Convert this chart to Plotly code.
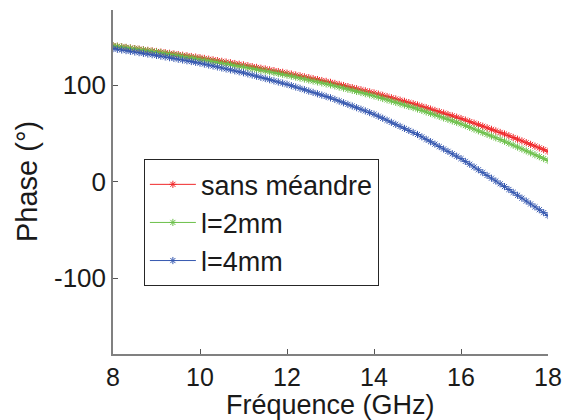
import numpy as np
import plotly.graph_objects as go

freq = np.round(np.linspace(8, 18, 101), 2)

sans_meandre = [
    141.0, 140.4, 139.8, 139.2, 138.6, 138.0, 137.4, 136.8, 136.2, 135.6,
    135.0, 134.4, 133.7, 133.1, 132.4, 131.8, 131.1, 130.5, 129.8, 129.2,
    128.5, 127.8, 127.0, 126.3, 125.5, 124.8, 124.0, 123.3, 122.5, 121.8,
    121.0, 120.2, 119.3, 118.5, 117.6, 116.8, 115.9, 115.1, 114.2, 113.4,
    112.5, 111.6, 110.6, 109.7, 108.7, 107.8, 106.8, 105.9, 104.9, 104.0,
    103.0, 101.9, 100.8, 99.7, 98.6, 97.5, 96.4, 95.3, 94.2, 93.1,
    92.0, 90.8, 89.5, 88.3, 87.0, 85.8, 84.5, 83.3, 82.0, 80.8,
    79.5, 78.1, 76.7, 75.3, 73.9, 72.5, 71.1, 69.7, 68.3, 66.9,
    65.5, 63.9, 62.3, 60.7, 59.1, 57.5, 55.9, 54.3, 52.7, 51.1,
    49.5, 47.7, 45.9, 44.1, 42.3, 40.5, 38.7, 36.9, 35.1, 33.3,
    31.5,
]

l_2mm = [
    141.0, 140.4, 139.7, 139.1, 138.4, 137.8, 137.1, 136.5, 135.8, 135.2,
    134.5, 133.8, 133.0, 132.3, 131.5, 130.8, 130.0, 129.3, 128.5, 127.8,
    127.0, 126.2, 125.4, 124.6, 123.8, 123.0, 122.2, 121.4, 120.6, 119.8,
    119.0, 118.2, 117.3, 116.5, 115.6, 114.8, 113.9, 113.1, 112.2, 111.4,
    110.5, 109.5, 108.5, 107.5, 106.5, 105.5, 104.5, 103.5, 102.5, 101.5,
    100.5, 99.4, 98.2, 97.1, 95.9, 94.8, 93.6, 92.5, 91.3, 90.2,
    89.0, 87.7, 86.3, 85.0, 83.6, 82.3, 80.9, 79.6, 78.2, 76.9,
    75.5, 74.0, 72.4, 70.9, 69.3, 67.8, 66.2, 64.7, 63.1, 61.6,
    60.0, 58.2, 56.4, 54.6, 52.8, 51.0, 49.2, 47.4, 45.6, 43.8,
    42.0, 40.0, 38.0, 36.0, 34.0, 32.0, 30.0, 28.0, 26.0, 24.0,
    22.0,
]

l_4mm = [
    138.0, 137.3, 136.6, 135.9, 135.2, 134.5, 133.8, 133.1, 132.4, 131.7,
    131.0, 130.2, 129.4, 128.6, 127.8, 127.0, 126.2, 125.4, 124.6, 123.8,
    123.0, 122.0, 121.0, 120.0, 119.0, 118.0, 117.0, 116.0, 115.0, 114.0,
    113.0, 111.8, 110.6, 109.4, 108.2, 107.0, 105.8, 104.6, 103.4, 102.2,
    101.0, 99.6, 98.2, 96.8, 95.4, 94.0, 92.6, 91.2, 89.8, 88.4,
    87.0, 85.3, 83.6, 81.9, 80.2, 78.5, 76.8, 75.1, 73.4, 71.7,
    70.0, 67.9, 65.8, 63.7, 61.6, 59.5, 57.4, 55.3, 53.2, 51.1,
    49.0, 46.5, 44.0, 41.5, 39.0, 36.5, 34.0, 31.5, 29.0, 26.5,
    24.0, 21.1, 18.2, 15.3, 12.4, 9.5, 6.6, 3.7, 0.8, -2.1,
    -5.0, -8.0, -11.0, -14.0, -17.0, -20.0, -23.0, -26.0, -29.0, -32.0,
    -35.0,
]

series_names = ["sans méandre", "l=2mm", "l=4mm"]
series_values = [sans_meandre, l_2mm, l_4mm]
series_colors = ["#f0282a", "#6cc04a", "#3658b0"]

x_ticks = [8, 10, 12, 14, 16, 18]
y_ticks = [-100, 0, 100]
y_ticktext = ["-100", "0", "100"]
x_title = "Fréquence (GHz)"
y_title = "Phase (°)"

FONT = "Arial, 'Liberation Sans', sans-serif"
TXT = "#1a1a1a"

fig = go.Figure()
for i, (name, vals, col) in enumerate(zip(series_names, series_values, series_colors)):
    fig.add_trace(go.Scatter(
        x=freq, y=vals, name=name, mode="lines+markers",
        line=dict(color=col, width=1),
        marker=dict(symbol="asterisk-open", size=6, color=col,
                    line=dict(color=col, width=1)),
        legendgroup=f"g{i}",
    ))

fig.add_annotation(
    text=x_title, xref="paper", yref="paper", x=0.5, y=0,
    xanchor="center", yanchor="middle", yshift=-51, showarrow=False,
    font=dict(family=FONT, size=27, color=TXT),
)
fig.add_annotation(
    text=y_title, xref="paper", yref="paper", x=0, y=0.5,
    xanchor="center", yanchor="middle", xshift=-86, textangle=-90,
    showarrow=False, font=dict(family=FONT, size=29, color=TXT),
)

fig.update_layout(
    width=566, height=420,
    margin=dict(l=113, r=18, t=10, b=66, autoexpand=False),
    paper_bgcolor="white", plot_bgcolor="white",
    font=dict(family=FONT, size=25, color=TXT),
    showlegend=True,
    legend=dict(
        x=0.071, y=0.566, xanchor="left", yanchor="top",
        bgcolor="white", bordercolor="#262626", borderwidth=1,
        font=dict(family=FONT, size=27, color=TXT),
        traceorder="grouped", tracegroupgap=0, itemwidth=46,
    ),
    xaxis=dict(
        range=[8, 18], tickvals=x_ticks, ticks="inside", ticklen=5,
        tickcolor="#555555", showline=True, linecolor="#808080", linewidth=1.5,
        showgrid=False, zeroline=False, mirror=False,
        tickfont=dict(family=FONT, size=25, color=TXT),
    ),
    yaxis=dict(
        range=[-178.5, 178], tickvals=y_ticks, ticktext=y_ticktext,
        ticks="inside", ticklen=5,
        tickcolor="#555555", showline=True, linecolor="#808080", linewidth=1.5,
        showgrid=False, zeroline=False, mirror=False,
        tickfont=dict(family=FONT, size=26, color=TXT),
    ),
)

fig.write_html("out.html", config={"displayModeBar": False},
               post_script="document.body.style.margin='0';")
